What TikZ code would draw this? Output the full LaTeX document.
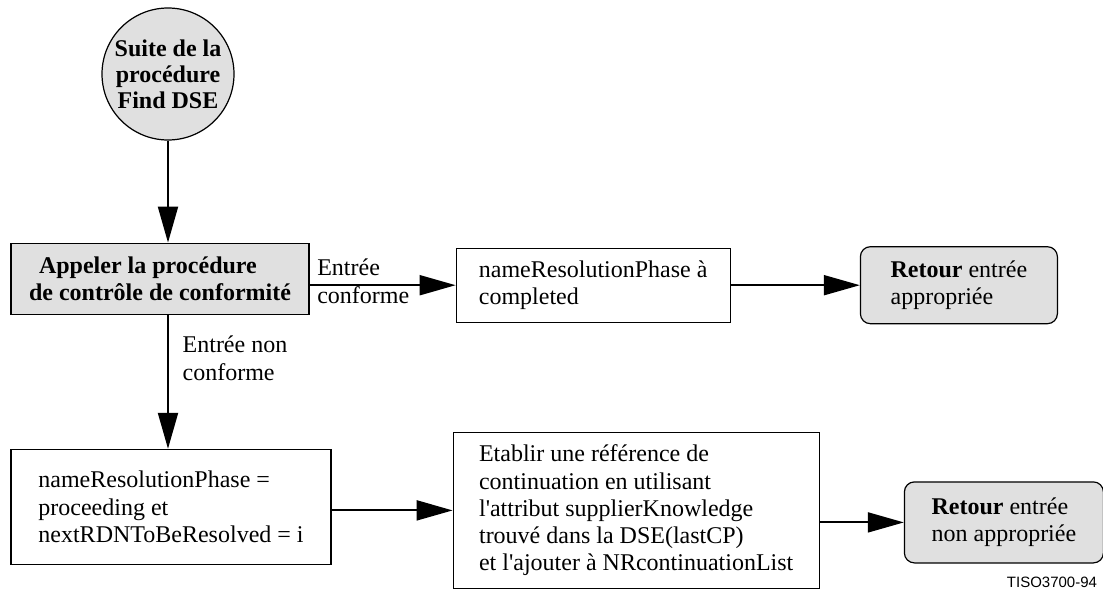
\documentclass[tikz,border=0pt]{standalone}
\usepackage{fontspec}
\setmainfont{Liberation Serif}
\newfontfamily\tagfont{Liberation Sans}
\usepackage{tikz}
\usetikzlibrary{positioning,arrows.meta}
\definecolor{boxgray}{gray}{0.88}

\begin{document}
\begin{tikzpicture}[->,>={Triangle[length=18pt,width=10pt]},line width=1pt,
  font=\fontsize{12}{13.6}\selectfont,
  proc box/.style={rectangle,draw,line width=0.6pt,align=left},
  start node/.style={circle,draw,line width=0.6pt,fill=boxgray,align=center,
    font=\fontsize{12}{13}\selectfont\bfseries,minimum size=66pt,inner sep=0pt},
  end box/.style={proc box,rounded corners=5pt,fill=boxgray}]

  \useasboundingbox (0,0) rectangle (551.5pt,-294.5pt);

  \node[start node] (suite) at (84pt,-37pt) {Suite de la\\procédure\\Find DSE};
  \node[proc box,fill=boxgray,minimum width=149pt,minimum height=35.5pt,
    font=\fontsize{12}{13.6}\selectfont\bfseries] (appeler) [below=51pt of suite,xshift=-4pt]
    {\hspace*{5pt}Appeler la procédure\\de contrôle de conformité};
  \node[proc box,minimum width=137pt,minimum height=37pt] (completed)
    [right=73pt of appeler,yshift=-3.25pt] {nameResolutionPhase à\\completed};
  \node[end box,minimum width=98.5pt,minimum height=38.5pt] (retour1)
    [right=64.5pt of completed] {\textbf{Retour} entrée\\appropriée};
  \node[proc box,minimum width=160pt,minimum height=57.5pt] (proceeding)
    [below=67pt of appeler,xshift=5.5pt]
    {nameResolutionPhase =\\proceeding et\\nextRDNToBeResolved = i};
  \node[proc box,minimum width=183pt,minimum height=78pt] (etablir)
    [right=60.5pt of proceeding,yshift=-1.75pt]
    {Etablir une référence de\\continuation en utilisant\\l\textquotesingle attribut supplierKnowledge\\trouvé dans la DSE(lastCP)\\et l\textquotesingle ajouter à NRcontinuationList};
  \node[end box,minimum width=99.5pt,minimum height=40.5pt] (retour2)
    [right=42pt of etablir,yshift=-6pt] {\textbf{Retour} entrée\\non appropriée};
  \node[font=\tagfont\fontsize{7.5}{9}\selectfont,anchor=east,inner sep=0pt] (figref)
    at (549pt,-291pt) {TISO3700-94};

  \path
    (suite) edge (suite |- appeler.north)
    (appeler.east |- completed) edge node[pos=0,anchor=west,align=left,yshift=2pt]
      {Entrée\\conforme} (completed)
    (completed) edge (retour1)
    (suite |- appeler.south) edge node[pos=0.325,right=3.5pt,align=left]
      {Entrée non\\conforme} (suite |- proceeding.north)
    (proceeding.east |- etablir) edge (etablir)
    (etablir.east |- retour2) edge (retour2);
\end{tikzpicture}
\end{document}
